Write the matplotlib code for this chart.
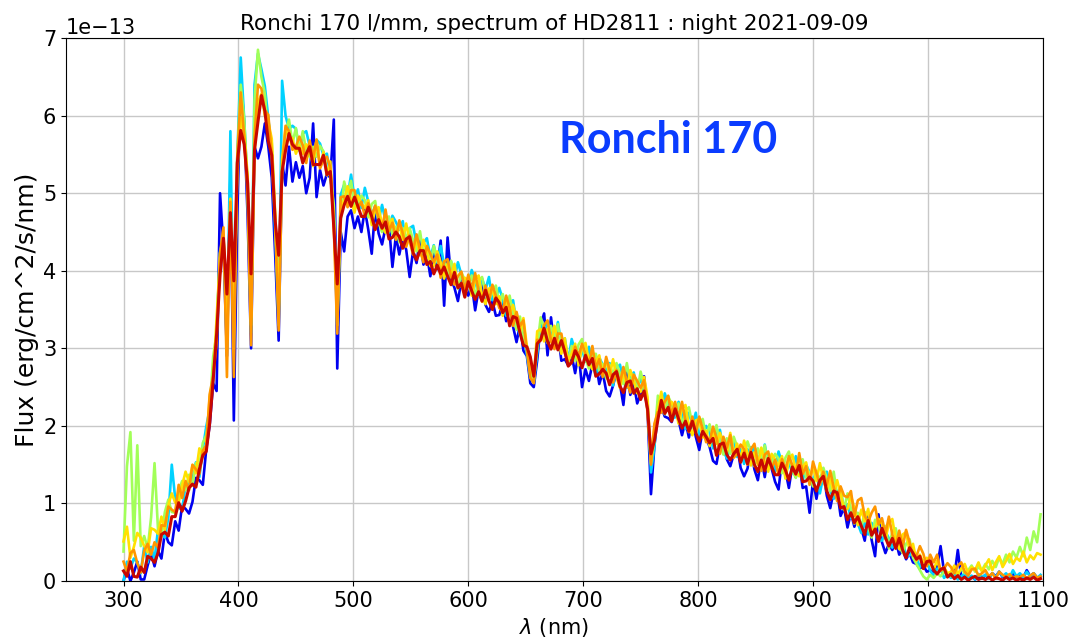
import numpy as np
import matplotlib.pyplot as plt

# Flux samples every 3 nm from 300 to 1098 nm, in units of 1e-15 erg/cm^2/s/nm
# (i.e. hundredths of the 1e-13 axis unit). One list per exposure.
flux_blue = [
    0, 16, 0, 11, 25, 2, 2, 20, 36, 19,             # 300-327
    39, 29, 63, 50, 46, 77, 65, 97, 93, 87,         # 330-357
    102, 133, 130, 124, 170, 201, 255, 245, 500, 430,
    290, 520, 207, 470, 650, 590, 470, 300, 560, 545,
    560, 590, 560, 520, 420, 310, 540, 510, 560, 515,
    540, 520, 535, 500, 520, 590, 495, 530, 510, 525,
    520, 595, 274, 450, 425, 470, 478, 455, 470, 450,
    479, 453, 422, 480, 448, 434, 456, 459, 405, 445,
    421, 443, 427, 392, 426, 410, 442, 408, 421, 393,
    422, 402, 439, 355, 443, 390, 378, 361, 387, 376,
    368, 383, 349, 376, 382, 356, 347, 361, 342, 343,
    359, 335, 359, 328, 308, 330, 297, 290, 255, 250,
    285, 330, 345, 291, 340, 302, 321, 284, 286, 278,
    291, 268, 294, 250, 273, 258, 280, 282, 254, 269,
    245, 238, 252, 271, 254, 227, 272, 240, 255, 229,
    241, 264, 220, 112, 175, 215, 225, 212, 210, 205,
    227, 207, 188, 206, 185, 210, 186, 169, 195, 185,
    173, 155, 151, 177, 183, 157, 148, 163, 174, 146,
    135, 145, 172, 144, 130, 159, 134, 162, 145, 128,
    118, 157, 142, 120, 149, 134, 154, 120, 122, 88,
    129, 106, 132, 140, 110, 94, 116, 116, 84, 95,
    69, 88, 70, 87, 68, 52, 85, 53, 32, 86,
    50, 36, 48, 40, 52, 34, 40, 28, 36, 24,
    22, 16, 20, 12, 14, 10, 18, 45, 12, 8,
    10, 6, 40, 4, 8, 3, 6, 2, 5, 3,
    8, 4, 10, 6, 12, 5, 8, 4, 10, 5,
    8, 4, 14, 6, 10, 4, 6,
]

flux_cyan = [
    0, 25, 16, 29, 24, 10, 45, 24, 44, 28,
    66, 60, 56, 82, 150, 106, 95, 91, 124, 126,
    131, 153, 134, 170, 199, 222, 256, 325, 425, 444,
    300, 580, 300, 545, 675, 596, 508, 320, 640, 680,
    660, 638, 597, 549, 450, 330, 645, 600, 583, 587,
    583, 555, 577, 580, 561, 542, 569, 564, 549, 551,
    521, 482, 330, 498, 511, 495, 524, 494, 505, 481,
    507, 489, 470, 484, 465, 485, 464, 449, 471, 463,
    453, 464, 434, 455, 458, 435, 426, 436, 442, 417,
    433, 411, 432, 408, 392, 412, 390, 411, 395, 377,
    380, 401, 388, 368, 390, 376, 392, 362, 366, 378,
    363, 342, 359, 362, 332, 317, 320, 292, 262, 256,
    294, 332, 319, 334, 320, 307, 334, 304, 313, 283,
    312, 297, 282, 299, 283, 302, 281, 265, 288, 279,
    270, 281, 252, 274, 279, 257, 249, 261, 269, 246,
    264, 242, 226, 140, 173, 231, 218, 242, 228, 210,
    211, 231, 217, 196, 217, 202, 217, 187, 189, 200,
    193, 171, 190, 195, 169, 158, 178, 181, 160, 170,
    151, 170, 157, 173, 160, 148, 176, 150, 162, 141,
    167, 152, 136, 154, 139, 161, 143, 129, 150, 140,
    128, 141, 113, 136, 141, 116, 106, 114, 118, 91,
    99, 81, 93, 74, 62, 75, 60, 75, 64, 53,
    52, 64, 55, 43, 54, 44, 52, 33, 33, 38,
    30, 18, 26, 27, 13, 7, 16, 16, 4, 8,
    4, 8, 2, 6, 10, 3, 7, 2, 9, 5,
    8, 3, 10, 5, 12, 6, 10, 4, 14, 6,
    10, 5, 12, 6, 10, 4, 8,
]

flux_green = [
    38, 148, 192, 52, 175, 45, 58, 42, 82, 152,
    67, 57, 89, 105, 89, 88, 116, 129, 117, 137,
    123, 152, 149, 178, 188, 220, 289, 319, 423, 443,
    340, 484, 320, 548, 640, 596, 509, 330, 620, 685,
    650, 628, 571, 565, 470, 345, 531, 580, 595, 564,
    584, 556, 580, 554, 547, 560, 547, 561, 554, 530,
    522, 485, 330, 466, 515, 498, 516, 484, 487, 497,
    491, 469, 486, 490, 462, 450, 468, 470, 447, 457,
    437, 455, 441, 455, 439, 425, 451, 422, 432, 408,
    432, 414, 397, 412, 393, 413, 392, 377, 398, 388,
    382, 394, 365, 387, 392, 370, 362, 373, 381, 358,
    370, 349, 368, 342, 324, 341, 312, 304, 272, 258,
    300, 340, 327, 307, 329, 315, 331, 299, 300, 282,
    303, 284, 305, 312, 287, 274, 292, 293, 271, 280,
    261, 279, 266, 281, 267, 254, 281, 254, 266, 244,
    270, 252, 223, 152, 181, 239, 227, 215, 238, 228,
    218, 229, 199, 220, 224, 201, 192, 203, 209, 185,
    202, 180, 201, 177, 163, 184, 164, 186, 173, 157,
    159, 180, 167, 148, 171, 158, 175, 147, 151, 164,
    158, 139, 159, 167, 143, 133, 154, 157, 133, 141,
    122, 142, 130, 146, 132, 116, 141, 110, 118, 92,
    113, 93, 74, 88, 69, 89, 70, 56, 79, 71,
    59, 71, 42, 64, 68, 45, 36, 48, 54, 30,
    22, 14, 6, 2, 8, 4, 10, 6, 12, 8,
    6, 12, 8, 16, 10, 14, 20, 12, 18, 14,
    22, 15, 26, 18, 30, 22, 34, 24, 38, 30,
    44, 32, 56, 40, 64, 50, 86,
]

flux_yellow = [
    51, 70, 30, 44, 62, 56, 45, 37, 68, 66,
    61, 83, 66, 98, 113, 101, 101, 123, 141, 128,
    149, 139, 171, 162, 172, 238, 260, 339, 417, 443,
    330, 493, 340, 524, 598, 576, 524, 340, 553, 617,
    628, 600, 592, 570, 471, 350, 544, 584, 569, 571,
    551, 562, 551, 563, 556, 535, 569, 534, 553, 523,
    541, 467, 340, 481, 491, 509, 492, 475, 497, 487,
    481, 491, 459, 479, 482, 459, 449, 460, 467, 444,
    461, 440, 461, 437, 421, 441, 420, 440, 424, 406,
    406, 425, 411, 390, 410, 395, 409, 379, 381, 391,
    388, 368, 388, 394, 368, 357, 377, 379, 357, 367,
    342, 360, 344, 356, 338, 321, 339, 302, 280, 262,
    322, 325, 309, 325, 308, 329, 310, 293, 313, 284,
    293, 306, 278, 301, 307, 283, 273, 283, 291, 267,
    285, 264, 286, 263, 249, 270, 250, 272, 258, 242,
    244, 263, 237, 158, 198, 221, 244, 217, 221, 231,
    224, 203, 222, 227, 200, 188, 207, 209, 185, 194,
    174, 191, 177, 191, 177, 164, 191, 164, 177, 155,
    181, 165, 149, 166, 150, 172, 154, 141, 164, 157,
    148, 161, 132, 156, 163, 142, 135, 147, 153, 128,
    148, 129, 152, 130, 116, 134, 112, 130, 112, 92,
    93, 110, 94, 72, 92, 77, 93, 64, 68, 80,
    74, 54, 74, 80, 53, 41, 60, 63, 39, 48,
    26, 34, 24, 30, 22, 15, 26, 13, 18, 10,
    12, 20, 9, 16, 22, 10, 18, 14, 24, 12,
    20, 28, 14, 24, 32, 18, 26, 35, 22, 30,
    26, 38, 24, 33, 28, 36, 34,
]

flux_orange = [
    25, 12, 36, 40, 23, 11, 39, 48, 34, 50,
    43, 72, 71, 96, 92, 89, 124, 107, 129, 117,
    150, 144, 138, 168, 175, 241, 264, 307, 422, 456,
    263, 489, 263, 546, 630, 573, 497, 304, 571, 640,
    635, 607, 601, 550, 463, 323, 528, 587, 580, 556,
    560, 573, 562, 539, 568, 546, 569, 532, 543, 547,
    533, 455, 319, 495, 496, 482, 504, 504, 481, 489,
    470, 487, 471, 484, 468, 454, 479, 451, 462, 440,
    465, 448, 431, 446, 427, 447, 427, 411, 432, 422,
    411, 421, 391, 412, 415, 392, 382, 393, 399, 374,
    395, 375, 397, 374, 360, 381, 361, 382, 368, 352,
    348, 368, 352, 329, 347, 329, 336, 297, 262, 255,
    311, 310, 330, 336, 310, 299, 319, 319, 294, 280,
    282, 302, 290, 306, 293, 278, 303, 274, 286, 263,
    289, 272, 256, 272, 255, 276, 257, 243, 266, 258,
    249, 259, 217, 150, 203, 218, 217, 231, 239, 214,
    231, 210, 231, 207, 192, 212, 191, 212, 196, 179,
    180, 199, 185, 164, 186, 172, 188, 159, 164, 176,
    170, 150, 170, 177, 152, 142, 163, 167, 145, 156,
    137, 157, 144, 161, 149, 137, 165, 138, 148, 124,
    154, 139, 124, 141, 124, 142, 121, 103, 122, 110,
    108, 116, 84, 104, 107, 84, 76, 88, 96, 73,
    81, 61, 83, 60, 45, 65, 44, 66, 50, 33,
    32, 45, 35, 19, 34, 24, 34, 13, 16, 23,
    18, 10, 20, 24, 12, 7, 15, 16, 7, 10,
    14, 6, 10, 3, 12, 8, 5, 9, 4, 6,
    5, 8, 3, 7, 10, 4, 6,
]

flux_darkred = [
    13, 6, 25, 6, 5, 18, 11, 32, 29, 24,
    36, 60, 63, 58, 83, 83, 101, 90, 103, 120,
    125, 121, 144, 162, 167, 204, 259, 318, 394, 442,
    370, 475, 387, 539, 581, 563, 513, 396, 556, 592,
    626, 606, 567, 549, 464, 420, 528, 555, 577, 563,
    558, 558, 539, 551, 560, 537, 537, 537, 549, 524,
    528, 456, 383, 468, 485, 496, 483, 495, 483, 470,
    470, 482, 470, 453, 466, 455, 463, 441, 443, 450,
    444, 429, 441, 444, 423, 414, 426, 426, 408, 412,
    396, 407, 396, 405, 393, 382, 398, 378, 384, 366,
    386, 374, 363, 373, 361, 375, 361, 350, 365, 359,
    346, 353, 329, 341, 339, 320, 304, 302, 289, 264,
    306, 311, 326, 309, 299, 313, 298, 310, 296, 277,
    282, 297, 289, 275, 291, 279, 287, 264, 267, 273,
    268, 253, 266, 270, 251, 243, 256, 258, 242, 248,
    234, 245, 222, 164, 181, 208, 233, 216, 224, 206,
    222, 209, 197, 206, 193, 206, 191, 180, 193, 186,
    178, 184, 162, 176, 178, 163, 156, 164, 170, 153,
    165, 151, 166, 150, 141, 156, 142, 158, 147, 137,
    137, 152, 143, 130, 147, 138, 149, 128, 129, 134,
    129, 116, 130, 135, 116, 105, 116, 114, 94, 96,
    79, 88, 75, 83, 71, 60, 78, 59, 67, 51,
    68, 56, 45, 55, 42, 55, 40, 30, 43, 36,
    28, 32, 16, 25, 26, 14, 9, 15, 17, 5,
    9, 3, 7, 2, 5, 1, 4, 6, 2, 4,
    2, 5, 1, 4, 3, 1, 5, 2, 4, 1,
    3, 1, 4, 2, 5, 1, 3,
]

exposures = [
    (flux_blue, '#0000f0', 1.9),
    (flux_cyan, '#00d2ff', 1.9),
    (flux_green, '#a2ff58', 1.9),
    (flux_yellow, '#ffe100', 1.9),
    (flux_orange, '#ff9600', 1.9),
    (flux_darkred, '#c80800', 2.2),
]

fig = plt.figure(figsize=(10.74, 6.44), dpi=100)
ax = fig.add_axes([0.0615, 0.0978, 0.9095, 0.843])

for vals, color, width in exposures:
    flux = np.asarray(vals, dtype=float) * 1e-15
    wl = np.linspace(300, 1098, len(flux))
    ax.plot(wl, flux, color=color, lw=width)

ax.set_xlim(250, 1100)
ax.set_ylim(0, 7e-13)
ax.set_xticks(np.arange(300, 1101, 100))
ax.set_yticks(np.arange(0, 8) * 1e-13)
ax.grid(True, color='#c8c8c8', lw=1.0)
ax.set_axisbelow(True)
ax.tick_params(labelsize=15)
ax.yaxis.get_offset_text().set_fontsize(15)

ax.set_title('Ronchi 170 l/mm, spectrum of HD2811 : night 2021-09-09', fontsize=15.5)
ax.set_xlabel(r'$\lambda$ (nm)', fontsize=15)
ax.set_ylabel('Flux (erg/cm^2/s/nm)', fontsize=18, labelpad=3)

ax.text(0.616, 0.812, 'Ronchi 170', transform=ax.transAxes, ha='center', va='center',
        fontsize=31, fontweight='bold', family='Lato', color='#0a3cff')

fig.savefig('out.png', dpi=100)
